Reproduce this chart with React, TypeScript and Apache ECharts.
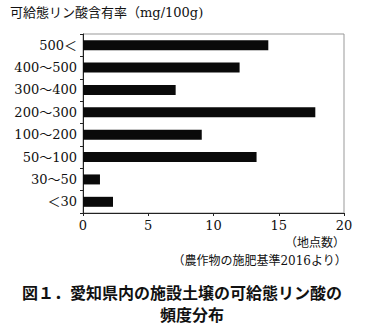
import React, { useEffect, useRef } from "react";
import * as echarts from "echarts";

const categories = ["＜30", "30～50", "50～100", "100～200", "200～300", "300～400", "400～500", "500＜"];
const counts = [2.3, 1.3, 13.3, 9.1, 17.8, 7.1, 12.0, 14.2];
const xTicks = { min: 0, max: 20, interval: 5 };

const FONT = "'DejaVu Serif', 'Noto Sans CJK JP', serif";
const GOTHIC = "'Noto Sans CJK JP', sans-serif";

export default function App() {
  const ref = useRef<HTMLDivElement>(null);
  useEffect(() => {
    document.body.style.margin = "0";
    const chart = echarts.init(ref.current!, undefined, { renderer: "svg" });
    chart.setOption({
      animation: false,
      backgroundColor: "#fff",
      grid: { left: 83, right: 31, top: 34, bottom: 116, show: true, borderColor: "#999", borderWidth: 1 },
      xAxis: {
        type: "value",
        min: xTicks.min,
        max: xTicks.max,
        interval: xTicks.interval,
        axisLine: { show: true, lineStyle: { color: "#222" } },
        axisTick: { show: true, length: 3, lineStyle: { color: "#222" } },
        splitLine: { show: false },
        axisLabel: { color: "#111", fontFamily: FONT, fontSize: 13, margin: 6 },
      },
      yAxis: {
        type: "category",
        data: categories,
        axisLine: { show: true, lineStyle: { color: "#222" } },
        axisTick: { show: true, length: 3, lineStyle: { color: "#222" } },
        axisLabel: { color: "#111", fontFamily: FONT, fontSize: 13, margin: 6 },
      },
      series: [
        {
          type: "bar",
          data: counts,
          barWidth: 10,
          itemStyle: { color: "#0a0a0a" },
        },
      ],
      graphic: [
        { type: "text", left: 10, top: 6, style: { text: "可給態リン酸含有率（mg/100g)", font: `13px ${FONT}`, fill: "#111" } },
        { type: "text", right: 30, top: 237, style: { text: "（地点数）", font: `12px ${FONT}`, fill: "#111" } },
        { type: "text", right: 28, top: 255, style: { text: "（農作物の施肥基準2016より）", font: `12px ${FONT}`, fill: "#111" } },
        { type: "text", left: 22, top: 284, style: { text: "図１．愛知県内の施設土壌の可給態リン酸の", font: `bold 16px ${GOTHIC}`, fill: "#111" } },
        { type: "text", left: 160, top: 306, style: { text: "頻度分布", font: `bold 16px ${GOTHIC}`, fill: "#111" } },
      ],
    });
    return () => chart.dispose();
  }, []);
  return <div ref={ref} style={{ width: 375, height: 329 }} />;
}
